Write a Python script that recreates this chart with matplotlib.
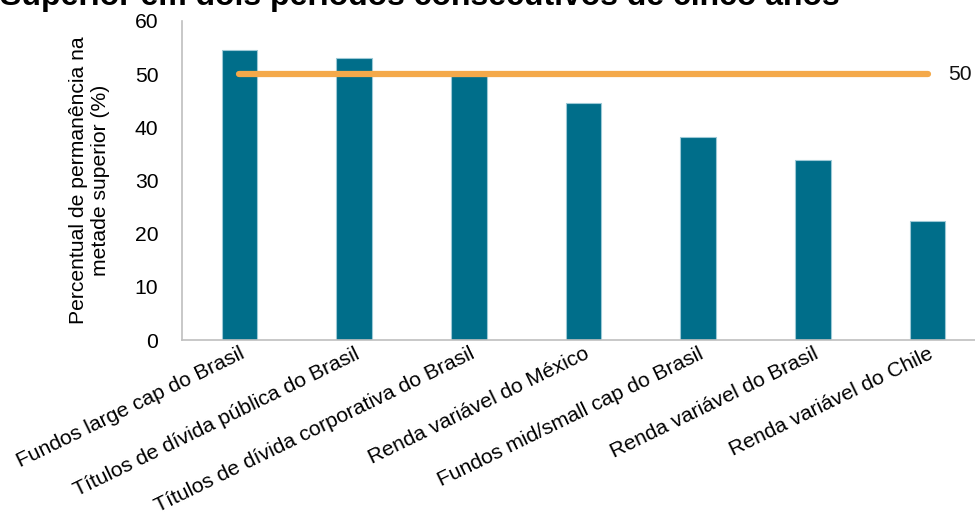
import matplotlib
matplotlib.use("Agg")
import matplotlib.pyplot as plt

plt.rcParams['font.family'] = ['Liberation Sans', 'DejaVu Sans']

categories = [
    "Fundos large cap do Brasil",
    "Títulos de dívida pública do Brasil",
    "Títulos de dívida corporativa do Brasil",
    "Renda variável do México",
    "Fundos mid/small cap do Brasil",
    "Renda variável do Brasil",
    "Renda variável do Chile",
]
values = [54.5, 53.0, 49.6, 44.5, 38.1, 33.8, 22.3]
reference = 50
yticks = [0, 10, 20, 30, 40, 50, 60]
title = "Superior em dois períodos consecutivos de cinco anos"

W, H = 975, 519
fig = plt.figure(figsize=(W / 100, H / 100), dpi=100)
left, right, top, bottom = 182, 985, 21, 340
ax = fig.add_axes([left / W, 1 - bottom / H, (right - left) / W, (bottom - top) / H])

FS = 15.2
x = list(range(len(categories)))
ax.bar(x, values, width=0.31, color="#006E8A", edgecolor="#9cc9d6", linewidth=0.8, zorder=2)
ax.plot([x[0], x[-1]], [reference] * 2, color="#F4A94A", lw=4.5, solid_capstyle="round", zorder=3)
ax.text(x[-1] + 0.18, reference, str(reference), fontsize=FS, va="center", ha="left", color="#111111")

ax.set_xlim(-0.5, len(categories) - 0.5)
ax.set_ylim(0, 60)
ax.set_yticks(yticks)
ax.set_yticklabels([str(t) for t in yticks], fontsize=FS)
ax.set_xticks(x)
ax.set_xticklabels(categories, rotation=26, ha="right", rotation_mode="anchor", fontsize=FS)
ax.tick_params(axis="both", length=0)
ax.tick_params(axis="y", pad=17)
ax.tick_params(axis="x", pad=3)

for s in ["top", "right"]:
    ax.spines[s].set_visible(False)
for s in ["left", "bottom"]:
    ax.spines[s].set_color("#bfbfbf")
    ax.spines[s].set_linewidth(1.2)

ax.set_ylabel("Percentual de permanência na\nmetade superior (%)", fontsize=FS, labelpad=18)

fig.text(0.0, 1 - 5 / H, title, fontsize=23, fontweight="bold", ha="left", va="baseline")

fig.savefig("out.png", dpi=100)
